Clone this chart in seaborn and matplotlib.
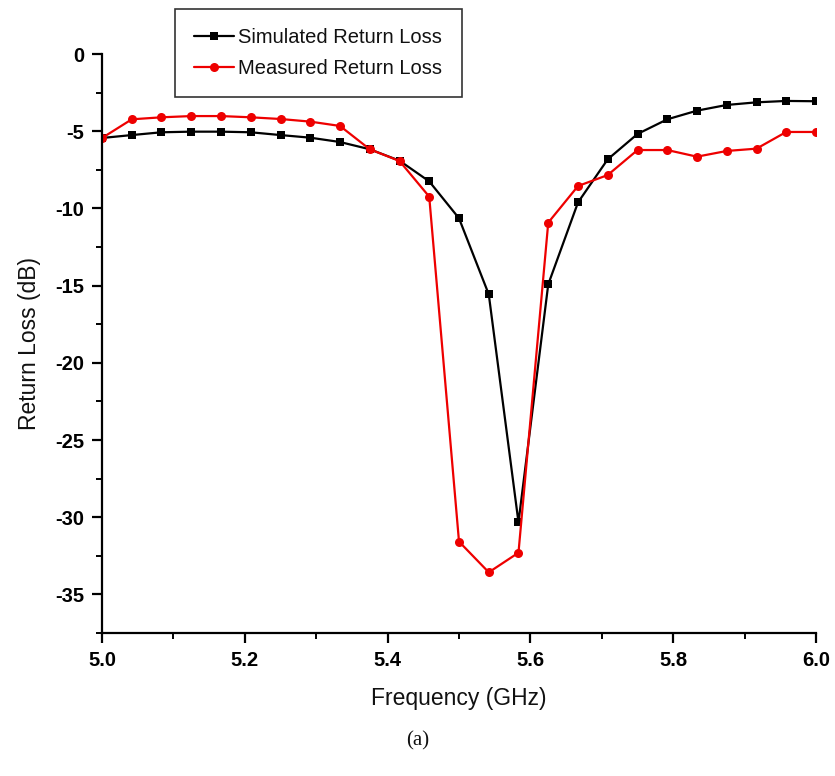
import numpy as np
import pandas as pd
import seaborn as sns
import matplotlib.pyplot as plt
from matplotlib.ticker import MultipleLocator

# frequency points (GHz), 25 samples from 5.0 to 6.0
freq = [5.0, 5.0417, 5.0833, 5.125, 5.1667, 5.2083, 5.25, 5.2917, 5.3333,
        5.375, 5.4167, 5.4583, 5.5, 5.5417, 5.5833, 5.625, 5.6667, 5.7083,
        5.75, 5.7917, 5.8333, 5.875, 5.9167, 5.9583, 6.0]

simulated = [-5.44, -5.25, -5.07, -5.03, -5.03, -5.07, -5.25, -5.42, -5.70,
             -6.17, -6.91, -8.25, -10.64, -15.57, -30.33, -14.92, -9.61, -6.82,
             -5.18, -4.23, -3.67, -3.30, -3.13, -3.04, -3.06]

measured = [-5.44, -4.23, -4.10, -4.02, -4.02, -4.10, -4.21, -4.38, -4.66,
            -6.17, -6.93, -9.24, -31.58, -33.57, -32.30, -10.92, -8.55, -7.84,
            -6.22, -6.22, -6.65, -6.28, -6.13, -5.05, -5.05]

df = pd.DataFrame({'freq': freq, 'sim': simulated, 'meas': measured})

sns.set_style('white')
plt.rcParams['font.family'] = ['Liberation Sans', 'DejaVu Sans']

fig = plt.figure(figsize=(8.35, 7.76), dpi=100)
ax = fig.add_axes([102 / 835, 1 - 633 / 776, (816 - 102) / 835, (633 - 54) / 776])

sns.lineplot(data=df, x='freq', y='sim', ax=ax, color='black', marker='s',
             markersize=5.5, markeredgewidth=0, linewidth=1.6,
             label='Simulated Return Loss')
sns.lineplot(data=df, x='freq', y='meas', ax=ax, color='#ee0000', marker='o',
             markersize=6.5, markeredgewidth=0, linewidth=1.6,
             label='Measured Return Loss')

ax.set_xlim(5.0, 6.0)
ax.set_ylim(-37.5, 0)
ax.xaxis.set_major_locator(MultipleLocator(0.2))
ax.xaxis.set_minor_locator(MultipleLocator(0.1))
ax.yaxis.set_major_locator(MultipleLocator(5))
ax.yaxis.set_minor_locator(MultipleLocator(2.5))
ax.set_xticklabels([f'{v:.1f}' for v in ax.get_xticks()])
ax.set_yticklabels([f'{v:.0f}' for v in ax.get_yticks()])

sns.despine(ax=ax)
for s in ['left', 'bottom']:
    ax.spines[s].set_linewidth(1.6)
    ax.spines[s].set_color('black')

ax.tick_params(which='major', direction='out', length=7, width=1.6,
               labelsize=14.5, colors='black', left=True, bottom=True, pad=6)
ax.tick_params(which='minor', direction='out', length=4, width=1.4,
               colors='black', left=True, bottom=True)
for lab in ax.get_xticklabels() + ax.get_yticklabels():
    lab.set_fontweight('bold')

ax.set_xlabel('Frequency (GHz)', fontsize=16.5, labelpad=12, color='#111111')
ax.set_ylabel('Return Loss (dB)', fontsize=16.5, labelpad=10, color='#111111')

leg = ax.legend(loc='upper left', bbox_to_anchor=(175 / 835, 1 - 9 / 776),
                bbox_transform=fig.transFigure, borderaxespad=0, frameon=True,
                fancybox=False, edgecolor='black', fontsize=14.5,
                handlelength=2.0, borderpad=0.95, labelspacing=0.6,
                handletextpad=0.2)
leg.get_frame().set_linewidth(1.2)
for t in leg.get_texts():
    t.set_color('#111111')

fig.text(418 / 835, 1 - 741 / 776, '(a)', ha='center', va='center',
         fontsize=15, color='#111111',
         family=['Liberation Serif', 'DejaVu Serif'])

fig.savefig('out.png', dpi=100, facecolor='white')
